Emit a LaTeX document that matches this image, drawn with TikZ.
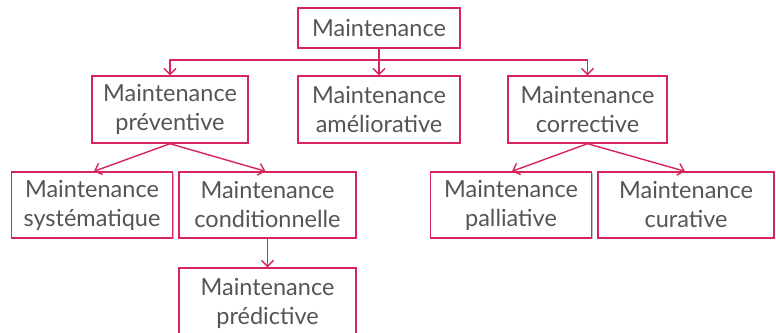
\documentclass[tikz,border=0pt]{standalone}
\usepackage{fontspec}
\setmainfont{Lato}
\usetikzlibrary{arrows.meta,shadows}
\definecolor{mred}{RGB}{214,38,92}
\definecolor{mtext}{RGB}{85,85,85}
\begin{document}
\begin{tikzpicture}[x=1pt,y=-1pt,
  box/.style={draw=mred,line width=1.4pt,fill=white,inner sep=0pt,
    text=mtext,font=\fontsize{23.5}{29}\selectfont,align=center,
    drop shadow={shadow xshift=1.2pt,shadow yshift=-1.2pt,opacity=0.25,fill=black}},
  conn/.style={draw=mred,line width=1.4pt,-{Straight Barb[length=6pt,width=12pt,line width=1.4pt]}}]
\clip (0,0) rectangle (776,332);
\fill[white] (0,0) rectangle (776,332);
\node[box,minimum width=162pt,minimum height=40pt] (top) at (379,28) {Maintenance};
\node[box,minimum width=156pt,minimum height=67pt] (prev) at (170,109.5) {Maintenance\\préventive};
\node[box,minimum width=162pt,minimum height=67pt] (amel) at (379,109.5) {Maintenance\\améliorative};
\node[box,minimum width=159pt,minimum height=67pt] (corr) at (587.5,109.5) {Maintenance\\corrective};
\node[box,minimum width=161pt,minimum height=66pt] (syst) at (92,205) {Maintenance\\systématique};
\node[box,minimum width=177pt,minimum height=66pt] (cond) at (267.5,205) {Maintenance\\conditionnelle};
\node[box,minimum width=161pt,minimum height=66pt] (pall) at (511,205) {Maintenance\\palliative};
\node[box,minimum width=176pt,minimum height=66pt] (cura) at (686,205) {Maintenance\\curative};
\node[box,minimum width=177pt,minimum height=70pt] (pred) at (267.5,303) {Maintenance\\prédictive};
\coordinate (bus) at (379,60);
\draw[draw=mred,line width=1.4pt] (top.south) -- (bus);
\draw[conn] (bus) -| (prev.north);
\draw[conn] (bus) -- (amel.north);
\draw[conn] (bus) -| (corr.north);
\draw[conn] (prev.south) -- ([xshift=2pt]syst.north);
\draw[conn] (prev.south) -- ([xshift=-2pt]cond.north);
\draw[conn] (corr.south) -- ([xshift=1pt]pall.north);
\draw[conn] (corr.south) -- ([xshift=-1pt]cura.north);
\draw[conn] (cond.south) -- (pred.north);
\end{tikzpicture}
\end{document}
